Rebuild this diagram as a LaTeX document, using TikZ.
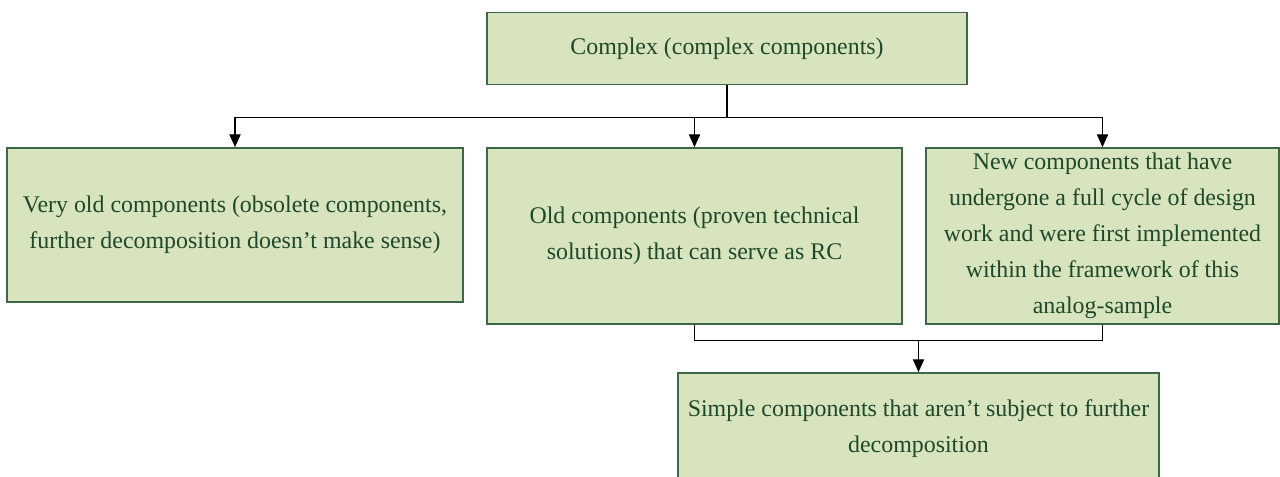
\documentclass[tikz,border=0pt]{standalone}
\usepackage{fontspec}
\setmainfont{Liberation Serif}
\usepackage{xcolor}
\usetikzlibrary{arrows.meta,positioning}

\definecolor{boxfill}{RGB}{215,228,189}
\definecolor{boxline}{RGB}{62,102,72}
\definecolor{boxtext}{RGB}{30,72,42}

\begin{document}
\begin{tikzpicture}[
  comp/.style={rectangle, draw=boxline, fill=boxfill, line width=1.2pt, text=boxtext,
    align=center, inner sep=0pt, font=\fontsize{17}{25.6}\selectfont},
  wire/.style={line width=0.9pt},
  link/.style={wire, -{Triangle[length=0.32cm,width=0.28cm]}}
]
\useasboundingbox (0,0) rectangle (32,11.925);

\node[comp, minimum width=12cm, minimum height=1.8cm] (complex) at (18.175,10.7125) {Complex (complex components)};

\node[comp, minimum width=11.4cm, minimum height=3.85cm] (veryold) at (5.875,6.3) {
Very old components (obsolete components,\\
further decomposition doesn’t make sense)
};

\node[comp, minimum width=10.375cm, minimum height=4.4cm] (old) at (17.3625,6.025) {
Old components (proven technical\\
solutions) that can serve as RC
};

\node[comp, minimum width=8.825cm, minimum height=4.4cm] (new) at (27.5625,6.025) {
New components that have\\
undergone a full cycle of design\\
work and were first implemented\\
within the framework of this\\
analog-sample
};

\node[comp, minimum width=12.025cm, minimum height=2.775cm] (simple) at (22.9625,1.2125) {
Simple components that aren’t subject to further\\
decomposition
};

\draw[wire] (complex.south) -- ++(0,-0.8) coordinate (split);
\draw[link] (split) -| (veryold.north);
\draw[link] (split) -| (old.north);
\draw[link] (split) -| (new.north);

\draw[wire] (old.south) -- ++(0,-0.4) coordinate (merge) -| (new.south);
\draw[link] (merge -| simple.north) -- (simple.north);

\end{tikzpicture}
\end{document}
